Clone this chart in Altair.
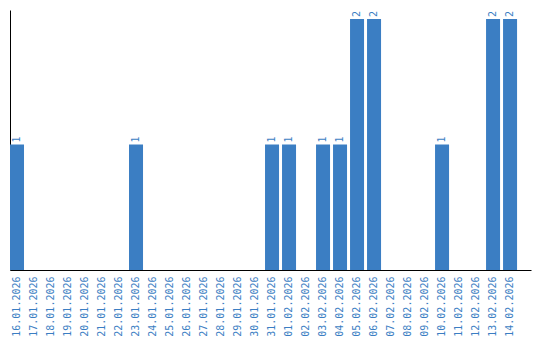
import altair as alt
import pandas as pd

dates = ["16.01.2026", "17.01.2026", "18.01.2026", "19.01.2026", "20.01.2026",
         "21.01.2026", "22.01.2026", "23.01.2026", "24.01.2026", "25.01.2026",
         "26.01.2026", "27.01.2026", "28.01.2026", "29.01.2026", "30.01.2026",
         "31.01.2026", "01.02.2026", "02.02.2026", "03.02.2026", "04.02.2026",
         "05.02.2026", "06.02.2026", "07.02.2026", "08.02.2026", "09.02.2026",
         "10.02.2026", "11.02.2026", "12.02.2026", "13.02.2026", "14.02.2026"]
counts = [1, 0, 0, 0, 0, 0, 0, 1, 0, 0,
          0, 0, 0, 0, 0, 1, 1, 0, 1, 1,
          2, 2, 0, 0, 0, 1, 0, 0, 2, 2]

df = pd.DataFrame({"date": dates, "count": counts})
df["label"] = df["count"].apply(lambda v: str(v) if v > 0 else "")

BLUE = "#3b7ec3"
FONT = "DejaVu Sans Mono"

x = alt.X("date:N", sort=dates,
          scale=alt.Scale(paddingInner=0.176, paddingOuter=0.41, align=0),
          axis=alt.Axis(title=None, labelAngle=270, labelFont=FONT, labelFontSize=10,
                        labelColor=BLUE, ticks=False, labelPadding=6,
                        domainColor="black", domainWidth=1, grid=False,
                        labelOverlap=False))
y = alt.Y("count:Q", scale=alt.Scale(domain=[0, 2.072], nice=False, zero=True),
          axis=alt.Axis(title=None, labels=False, ticks=False, grid=False,
                        domainColor="black", domainWidth=1))

bars = alt.Chart(df).mark_bar(color=BLUE).encode(x=x, y=y)
text = alt.Chart(df).mark_text(angle=270, align="left", baseline="middle", dx=2,
                               font=FONT, fontSize=10, color=BLUE).encode(
    x=alt.X("date:N", sort=dates), y="count:Q", text="label:N")

chart = (bars + text).properties(
    width=521, height=260,
    padding={"left": 10, "top": 10, "right": 9, "bottom": 70},
    autosize=alt.AutoSizeParams(type="none"),
).configure(background="white").configure_view(stroke=None)

chart.save("out.html", embed_options={"renderer": "svg", "actions": False})
